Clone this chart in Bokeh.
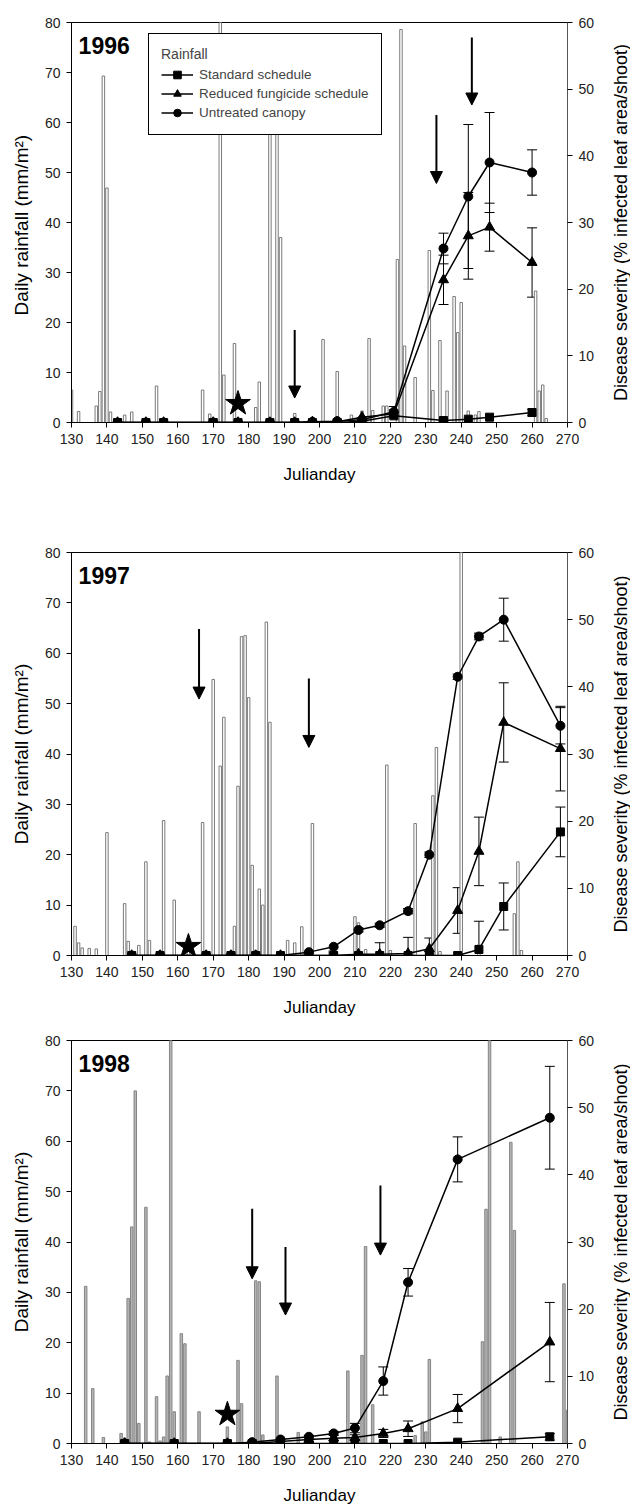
import math
from bokeh.plotting import figure
from bokeh.models import (LinearAxis, Range1d, ColumnDataSource, Whisker, TeeHead, Arrow,
                          NormalHead, Legend, LegendItem, Label, BoxAnnotation, FixedTicker)
from bokeh.layouts import column, row
from bokeh.embed import file_html
from bokeh.resources import INLINE

FONT = "Liberation Sans"

# ---------------- 1996 ----------------
RAIN96_DAY = [130, 132, 137, 138, 139, 140, 141, 145, 147, 154, 167, 169, 172, 173, 176, 182, 183,
              186, 188, 189, 193, 201, 205, 209, 212, 214, 215, 218, 219, 222, 223, 224, 227, 231,
              232, 234, 236, 238, 239, 240, 242, 244, 245, 261, 262, 263, 264]
RAIN96_MM = [6.5, 2.2, 3.3, 6.2, 69.3, 46.9, 2.1, 1.5, 2.1, 7.3, 6.5, 1.7, 85, 9.5, 15.8, 3.0, 8.1,
             65, 62, 37, 1.8, 16.6, 10.2, 1.5, 2.3, 16.8, 2.4, 3.3, 3.3, 32.6, 78.6, 15.3, 9.0, 34.4,
             6.4, 16.4, 6.3, 25.2, 18.0, 24.0, 2.3, 1.5, 2.2, 26.3, 6.3, 7.5, 0.8]
SEV96_DAY = [143, 151, 156, 170, 177, 186, 193, 198, 205, 212, 221, 235, 242, 248, 260]
STD96 = [0, 0, 0, 0, 0, 0, 0, 0, 0, 0.2, 1.0, 0.3, 0.5, 0.8, 1.5]
RED96 = [0, 0, 0, 0, 0, 0, 0, 0.1, 0.1, 0.8, 1.3, 21.4, 28.0, 29.3, 24.0]
UNT96 = [0, 0, 0, 0, 0, 0, 0, 0.1, 0.2, 0.4, 1.6, 26.1, 33.9, 39.0, 37.5]
STD96_SE = [0, 0, 0, 0, 0, 0, 0, 0, 0, 0, 0.3, 0, 0, 0, 0.5]
RED96_SE = [0, 0, 0, 0, 0, 0, 0, 0, 0, 0, 0.6, 3.7, 6.5, 3.6, 5.2]
UNT96_SE = [0, 0, 0, 0, 0, 0, 0, 0, 0, 0, 0.8, 2.3, 10.8, 7.5, 3.4]
ARROW96_DAY = [193, 233, 243]
ARROW96_FROM = [18.5, 61.5, 77.0]
ARROW96_TO = [4.9, 47.8, 63.5]
STAR96 = (177, 3.8)

# ---------------- 1997 ----------------
RAIN97_DAY = [131, 132, 133, 135, 137, 140, 145, 146, 149, 151, 152, 156, 159, 163, 167, 170, 172,
              173, 176, 177, 178, 179, 180, 181, 182, 183, 184, 185, 186, 191, 193, 195, 198, 203,
              210, 211, 213, 219, 220, 227, 232, 233, 234, 240, 245, 255, 256, 257]
RAIN97_MM = [5.8, 2.5, 1.5, 1.4, 1.3, 24.4, 10.3, 2.8, 2.0, 18.6, 3.0, 26.8, 11.0, 0.8, 26.4, 54.8,
             37.6, 47.3, 5.8, 33.6, 63.3, 63.5, 51.2, 17.9, 1.0, 13.2, 10.0, 66.2, 46.3, 3.0, 2.5,
             5.7, 26.2, 1.0, 7.7, 6.5, 1.2, 37.8, 1.0, 26.2, 31.7, 41.3, 0.8, 85, 2.2, 8.3, 18.6, 1.0]
SEV97_DAY = [147, 155, 168, 175, 182, 189, 197, 204, 211, 217, 225, 231, 239, 245, 252, 268]
STD97 = [0, 0, 0, 0, 0, 0, 0, 0, 0, 0, 0, 0, 0, 0.9, 7.3, 18.4]
RED97 = [0, 0, 0, 0, 0, 0, 0, 0, 0.2, 0.2, 0.3, 1.0, 6.7, 15.5, 34.7, 30.8]
UNT97 = [0, 0, 0, 0, 0, 0, 0.5, 1.3, 3.8, 4.5, 6.6, 15.0, 41.5, 47.5, 50.0, 34.2]
STD97_SE = [0, 0, 0, 0, 0, 0, 0, 0, 0, 0, 0, 0, 0, 4.2, 3.5, 3.7]
RED97_SE = [0, 0, 0, 0, 0, 0, 0, 0, 0, 1.7, 2.4, 1.6, 3.4, 5.1, 5.9, 6.3]
UNT97_SE = [0, 0, 0, 0, 0, 0, 0, 0, 0.3, 0.3, 0.4, 0.4, 0.4, 0.5, 3.2, 2.7]
ARROW97_DAY = [166, 197]
ARROW97_FROM = [64.8, 55.0]
ARROW97_TO = [50.9, 41.3]
STAR97 = (163, 1.8)

# ---------------- 1998 ----------------
RAIN98_DAY = [134, 136, 139, 144, 145, 146, 147, 148, 149, 151, 152, 154, 155, 156, 157, 158, 159,
              161, 162, 166, 174, 177, 178, 182, 183, 184, 188, 194, 208, 212, 213, 215, 227, 229,
              230, 231, 246, 247, 248, 251, 254, 255, 269, 270]
RAIN98_MM = [31.2, 10.9, 1.2, 2.0, 1.1, 28.8, 43.0, 70.0, 4.0, 46.9, 0.3, 9.3, 0.5, 1.3, 13.4, 85,
             6.3, 21.8, 19.8, 6.3, 3.3, 16.5, 7.9, 32.3, 32.1, 1.7, 13.4, 2.2, 14.4, 17.5, 39.1, 7.7,
             1.6, 4.3, 2.3, 16.7, 20.2, 46.5, 85, 1.3, 59.8, 42.3, 31.7, 6.6]
SEV98_DAY = [145, 159, 174, 181, 189, 197, 204, 210, 218, 225, 239, 265]
STD98 = [0, 0, 0, 0, 0, 0, 0, 0, 0, 0, 0.2, 1.0]
RED98 = [0, 0, 0, 0, 0.3, 0.6, 0.8, 0.9, 1.5, 2.2, 5.2, 15.1]
UNT98 = [0, 0, 0, 0.2, 0.6, 1.0, 1.5, 2.3, 9.3, 24.0, 42.3, 48.5]
STD98_SE = [0, 0, 0, 0, 0, 0, 0, 0, 0, 0, 0, 0.5]
RED98_SE = [0, 0, 0, 0, 0, 0, 0, 0.4, 0.6, 1.15, 2.1, 5.9]
UNT98_SE = [0, 0, 0, 0, 0, 0.2, 0.3, 0.7, 2.1, 2.05, 3.35, 7.65]
ARROW98_DAY = [181, 190.4, 217.2]
ARROW98_FROM = [46.6, 39.0, 51.2]
ARROW98_TO = [32.7, 25.5, 37.4]
STAR98 = (174, 5.8)

X_TICKS = list(range(130, 271, 10))
RAIN_TICKS = list(range(0, 81, 10))
SEV_TICKS = list(range(0, 61, 10))

SERIES_LABELS = ["Standard schedule", "Reduced fungicide schedule", "Untreated canopy"]
RIGHT_TITLE = "Disease severity (% infected leaf area/shoot)"

MAIN_W = 597
STRIP_W = 630 - MAIN_W


def style_axis(ax, label, standoff, size="17px"):
    ax.axis_label = label
    ax.axis_label_text_font = FONT
    ax.axis_label_text_font_size = size
    ax.axis_label_text_font_style = "normal"
    ax.axis_label_text_color = "black"
    ax.axis_label_standoff = standoff
    ax.major_label_text_font = FONT
    ax.major_label_text_font_size = "14px"
    ax.major_label_text_color = "#222222"
    ax.major_label_standoff = 6
    ax.major_tick_in = 0
    ax.major_tick_out = 5
    ax.minor_tick_line_color = None
    ax.axis_line_color = "black"
    ax.major_tick_line_color = "black"


def title_strip(height, top, bottom):
    s = figure(width=STRIP_W, height=height, x_range=Range1d(0, STRIP_W), y_range=Range1d(0, 1),
               x_axis_type=None, y_axis_type=None, output_backend="svg", toolbar_location=None,
               min_border_left=0, min_border_right=0, min_border_top=top, min_border_bottom=bottom)
    s.outline_line_color = None
    s.xgrid.visible = False
    s.ygrid.visible = False
    s.add_layout(Label(x=STRIP_W - 10, y=0.5, text=RIGHT_TITLE, angle=math.pi / 2,
                       text_font=FONT, text_font_size="18px", text_color="black",
                       text_align="center", text_baseline="middle"))
    return s


def make_panel(year, rain_day, rain_mm, sev_day, series, series_se, arrows, star,
               height, top, bottom, bar_fill, bar_line, legend=False, ylab="Daily rainfall (mm/m²)"):
    p = figure(width=MAIN_W, height=height, x_range=Range1d(130, 270), y_range=Range1d(0, 80),
               output_backend="svg", toolbar_location=None,
               min_border_left=71, min_border_right=28, min_border_top=top, min_border_bottom=bottom)
    p.extra_y_ranges = {"sev": Range1d(0, 60)}
    p.xgrid.visible = False
    p.ygrid.visible = False
    p.outline_line_color = "black"
    p.outline_line_alpha = 1
    p.background_fill_color = "white"
    p.border_fill_color = "white"

    p.xaxis.ticker = FixedTicker(ticks=X_TICKS)
    p.yaxis.ticker = FixedTicker(ticks=RAIN_TICKS)
    style_axis(p.xaxis[0], "Julianday", 18, "17px")
    style_axis(p.yaxis[0], ylab, 10, "19px")

    rax = LinearAxis(y_range_name="sev", ticker=FixedTicker(ticks=SEV_TICKS))
    style_axis(rax, None, 0)
    rax.axis_line_color = "#555555"
    p.add_layout(rax, "right")

    # rainfall bars
    p.vbar(x=rain_day, top=rain_mm, width=0.7, bottom=0,
           fill_color=bar_fill, line_color=bar_line, line_width=1)

    # severity series
    markers = ["square", "triangle", "circle"]
    msizes = [8, 10, 9]
    legend_items = []
    for vals, se, mk, ms, lab in zip(series, series_se, markers, msizes, SERIES_LABELS):
        ed = [d for d, e in zip(sev_day, se) if e > 0]
        ev = [v for v, e in zip(vals, se) if e > 0]
        ee = [e for e in se if e > 0]
        if ed:
            wsrc = ColumnDataSource(dict(x=ed, u=[v + e for v, e in zip(ev, ee)],
                                         l=[v - e for v, e in zip(ev, ee)]))
            w = Whisker(source=wsrc, base="x", upper="u", lower="l", y_range_name="sev",
                        line_color="black", line_width=1,
                        upper_head=TeeHead(size=10, line_color="black", line_width=1),
                        lower_head=TeeHead(size=10, line_color="black", line_width=1))
            p.add_layout(w)
        lr = p.line(sev_day, vals, y_range_name="sev", line_color="black", line_width=1.5)
        sr = p.scatter(sev_day, vals, y_range_name="sev", marker=mk, size=ms,
                       fill_color="black", line_color="black")
        legend_items.append(LegendItem(label=lab, renderers=[lr, sr]))

    # fungicide application arrows
    asrc = ColumnDataSource(dict(x=arrows[0], y0=arrows[1], y1=arrows[2]))
    p.add_layout(Arrow(source=asrc, x_start="x", y_start="y0", x_end="x", y_end="y1",
                       line_color="black", line_width=2,
                       end=NormalHead(size=12, fill_color="black", line_color="black")))

    # star marker
    p.scatter([star[0]], [star[1]], marker="star", size=26, fill_color="black", line_color="black")

    # year label
    p.add_layout(Label(x=132, y=75.4, text=year, text_font=FONT, text_font_size="23px",
                       text_font_style="bold", text_baseline="middle", text_color="black"))

    if legend:
        lg = Legend(items=legend_items, location=(77, 287), title="Rainfall",
                    title_text_font=FONT, title_text_font_size="14px", title_text_font_style="normal",
                    title_standoff=3, label_text_font=FONT, label_text_font_size="13.5px",
                    glyph_width=32, glyph_height=19, label_height=19, label_standoff=6,
                    spacing=0, padding=12, margin=0, border_line_color="black",
                    border_line_width=1, border_line_alpha=1, background_fill_alpha=1)
        p.add_layout(lg)
        # rainfall swatch to the right of the legend title
        p.add_layout(BoxAnnotation(left=169.9, right=178.3, bottom=72.0, top=74.0, level="overlay",
                                   fill_color="white", fill_alpha=1,
                                   line_color=bar_line, line_alpha=1, line_width=1))
    return row(p, title_strip(height, top, bottom), spacing=0)


r1 = make_panel("1996", RAIN96_DAY, RAIN96_MM, SEV96_DAY, [STD96, RED96, UNT96],
                [STD96_SE, RED96_SE, UNT96_SE], (ARROW96_DAY, ARROW96_FROM, ARROW96_TO), STAR96,
                490, 22, 68, "white", "#7a7a7a", legend=True, ylab="Daily  rainfall (mm/m²)")
r2 = make_panel("1997", RAIN97_DAY, RAIN97_MM, SEV97_DAY, [STD97, RED97, UNT97],
                [STD97_SE, RED97_SE, UNT97_SE], (ARROW97_DAY, ARROW97_FROM, ARROW97_TO), STAR97,
                535, 62, 70, "white", "#7a7a7a")
r3 = make_panel("1998", RAIN98_DAY, RAIN98_MM, SEV98_DAY, [STD98, RED98, UNT98],
                [STD98_SE, RED98_SE, UNT98_SE], (ARROW98_DAY, ARROW98_FROM, ARROW98_TO), STAR98,
                483, 15, 65, "#b5b5b5", "#858585")

layout = column(r1, r2, r3, spacing=0)
open("out.html", "w").write(file_html(layout, INLINE))
